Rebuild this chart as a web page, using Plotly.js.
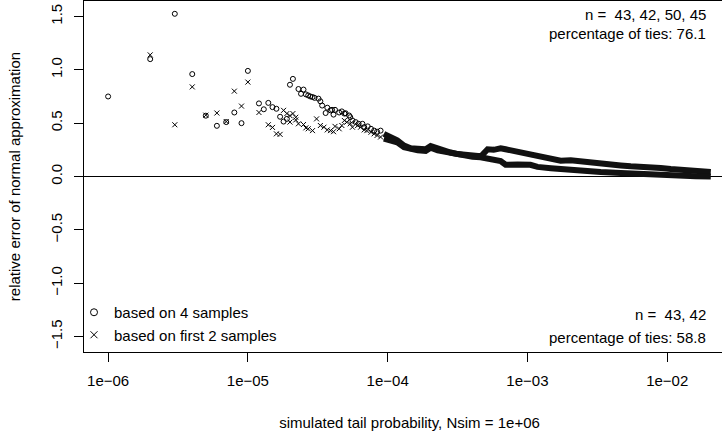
<!DOCTYPE html>
<html><head><meta charset="utf-8">
<script src="https://cdn.plot.ly/plotly-3.0.1.min.js"></script>
<style>html,body{margin:0;padding:0;overflow:hidden;background:#fff;width:722px;height:434px}</style>
</head><body><div id="chart" style="width:735px;height:434px"></div>
<script>
const Nsim = 1e6;
// isolated points: number of simulated exceedances k (tail probability = k / Nsim)
const circK = [1,2,3,4,5,6,7,8,9,10,12,13,14,15,16,17,18,19,20,21,23,24,25,26,27,28,29,30,32,33,34,36,37,39,40,41,42,45,47,49,50,53,54,56,59,62,66,68,72,76,80,84,89];
const circY = [0.75,1.10,1.525,0.96,0.57,0.475,0.51,0.60,0.50,0.99,0.685,0.63,0.69,0.65,0.635,0.56,0.515,0.54,0.86,0.915,0.82,0.775,0.815,0.77,0.76,0.75,0.745,0.737,0.73,0.705,0.665,0.595,0.645,0.62,0.625,0.58,0.625,0.60,0.61,0.59,0.593,0.572,0.556,0.525,0.51,0.494,0.494,0.462,0.47,0.447,0.43,0.42,0.43];
const crossK = [2,3,4,5,6,7,8,9,10,12,14,15,16,17,18,19,20,20,21,22,22,23,25,26,27,29,31,33,35,37,39,41,42,45,47,49,51,54,56,61,64,68,71,76,80,84,89];
const crossY = [1.14,0.485,0.84,0.575,0.595,0.515,0.80,0.66,0.885,0.60,0.485,0.46,0.40,0.395,0.62,0.59,0.57,0.51,0.59,0.555,0.53,0.494,0.487,0.456,0.447,0.43,0.54,0.478,0.462,0.437,0.43,0.42,0.47,0.447,0.478,0.525,0.509,0.494,0.462,0.478,0.462,0.437,0.43,0.415,0.40,0.385,0.37];
// densely packed points (tail probabilities), they merge into a band
const circDenseP = [9.4e-5,1.05e-4,1.17e-4,1.31e-4,1.46e-4,1.64e-4,1.87e-4,2.03e-4,2.28e-4,2.51e-4,2.82e-4,3.16e-4,3.61e-4,4.05e-4,4.62e-4,4.78e-4,5.19e-4,5.73e-4,6.43e-4,6.98e-4,7.58e-4,8.95e-4,1.05e-3,1.24e-3,1.47e-3,1.73e-3,2.04e-3,2.40e-3,2.84e-3,3.34e-3,3.94e-3,4.65e-3,5.48e-3,6.47e-3,7.62e-3,8.99e-3,1.06e-2,1.25e-2,1.48e-2,1.74e-2,2.05e-2];
const circDenseY = [0.40,0.37,0.34,0.29,0.265,0.26,0.255,0.285,0.26,0.25,0.225,0.21,0.20,0.195,0.19,0.205,0.255,0.25,0.265,0.255,0.245,0.225,0.21,0.19,0.168,0.148,0.152,0.145,0.128,0.118,0.11,0.103,0.095,0.093,0.088,0.08,0.07,0.062,0.055,0.048,0.042];
const crossDenseP = [9.4e-5,1.05e-4,1.17e-4,1.31e-4,1.46e-4,1.64e-4,1.87e-4,2.03e-4,2.28e-4,2.51e-4,2.82e-4,3.16e-4,3.61e-4,4.05e-4,4.62e-4,5.19e-4,5.73e-4,6.43e-4,6.98e-4,7.58e-4,8.51e-4,1.05e-3,1.18e-3,1.47e-3,1.82e-3,2.21e-3,2.61e-3,3.34e-3,4.65e-3,6.47e-3,8.99e-3,1.25e-2,1.60e-2,2.05e-2];
const crossDenseY = [0.355,0.34,0.32,0.275,0.255,0.245,0.24,0.27,0.245,0.235,0.215,0.20,0.19,0.185,0.18,0.165,0.158,0.145,0.11,0.105,0.112,0.11,0.09,0.078,0.066,0.055,0.048,0.042,0.032,0.021,0.01,0.004,0.002,0.0];

const xTickVals = [1e-6,1e-5,1e-4,1e-3,1e-2];
const xTickText = ["1e\u221206","1e\u221205","1e\u221204","1e\u221203","1e\u221202"];
const yTickVals = [-1.5,-1,-0.5,0,0.5,1,1.5];
const yTickText = ["\u22121.5","\u22121.0","\u22120.5","0.0","0.5","1.0","1.5"];
const legendLabels = ["based on 4 samples","based on first 2 samples"];
const notesTop = ["n =\u00a0 43, 42, 50, 45","percentage of ties: 76.1"];
const notesBottom = ["n =\u00a0 43, 42","percentage of ties: 58.8"];
const xTitle = "simulated tail probability, Nsim = 1e+06";
const yTitle = "relative error of normal approximation";

const FONT = "Liberation Sans, Arial, Helvetica, sans-serif";
const toP = k => k.map(v => v / Nsim);

const traces = [
  {x: circDenseP, y: circDenseY, mode: "lines", line: {color: "#111", width: 6}, showlegend: false, hoverinfo: "skip"},
  {x: crossDenseP, y: crossDenseY, mode: "lines", line: {color: "#111", width: 6}, showlegend: false, hoverinfo: "skip"},
  {x: toP(circK), y: circY, mode: "markers", showlegend: false,
   marker: {symbol: "circle-open", size: 5, color: "#000", line: {width: 1, color: "#000"}}},
  {x: toP(crossK), y: crossY, mode: "markers", showlegend: false,
   marker: {symbol: "x-thin-open", size: 5, color: "#000", line: {width: 1, color: "#000"}}},
  // legend keys
  {x: [null], y: [null], mode: "markers", name: legendLabels[0],
   marker: {symbol: "circle-open", size: 7, color: "#000", line: {width: 1, color: "#000"}}},
  {x: [null], y: [null], mode: "markers", name: legendLabels[1],
   marker: {symbol: "x-thin-open", size: 7, color: "#000", line: {width: 1, color: "#000"}}}
];

const W = 735, H = 434, L = 84, R = 0, T = 1, B = 82;
const pw = W - L - R, ph = H - T - B;
const px = v => (v - L) / pw;
const py = v => (H - B - v) / ph;

function note(text, xpx, ypx) {
  return {text: text, xref: "paper", yref: "paper", x: px(xpx), y: py(ypx),
    xanchor: "right", yanchor: "middle", showarrow: false,
    font: {family: FONT, size: 15, color: "#000"}};
}

const layout = {
  width: W, height: H,
  margin: {l: L, r: R, t: T, b: B},
  paper_bgcolor: "#fff", plot_bgcolor: "#fff",
  font: {family: FONT, size: 15, color: "#000"},
  showlegend: true,
  legend: {x: px(74), y: py(296), xanchor: "left", yanchor: "top",
    bgcolor: "rgba(0,0,0,0)", borderwidth: 0, itemwidth: 30,
    font: {family: FONT, size: 15, color: "#000"}, tracegroupgap: 0},
  xaxis: {type: "log", range: [-6.1725, -1.515], showgrid: false, zeroline: false,
    showline: true, mirror: true, linecolor: "#000", linewidth: 1,
    ticks: "outside", ticklen: 9, tickcolor: "#000", tickwidth: 1,
    tickvals: xTickVals, ticktext: xTickText, tickfont: {size: 15},
    ticklabelstandoff: 6,
    title: {text: xTitle, font: {size: 15}, standoff: 29}},
  yaxis: {range: [-1.645, 1.645], showgrid: false,
    zeroline: true, zerolinecolor: "#000", zerolinewidth: 1,
    showline: true, mirror: true, linecolor: "#000", linewidth: 1,
    ticks: "outside", ticklen: 9, tickcolor: "#000", tickwidth: 1,
    tickvals: yTickVals, ticktext: yTickText, tickangle: -90, tickfont: {size: 15},
    ticklabelstandoff: 6,
    title: {text: yTitle, font: {size: 15}, standoff: 23}},
  annotations: [
    note(notesTop[0], 708, 14), note(notesTop[1], 708, 33.5),
    note(notesBottom[0], 708, 314.5), note(notesBottom[1], 708, 337.5)
  ]
};

Plotly.newPlot("chart", traces, layout, {staticPlot: true, displayModeBar: false});
</script></body></html>
